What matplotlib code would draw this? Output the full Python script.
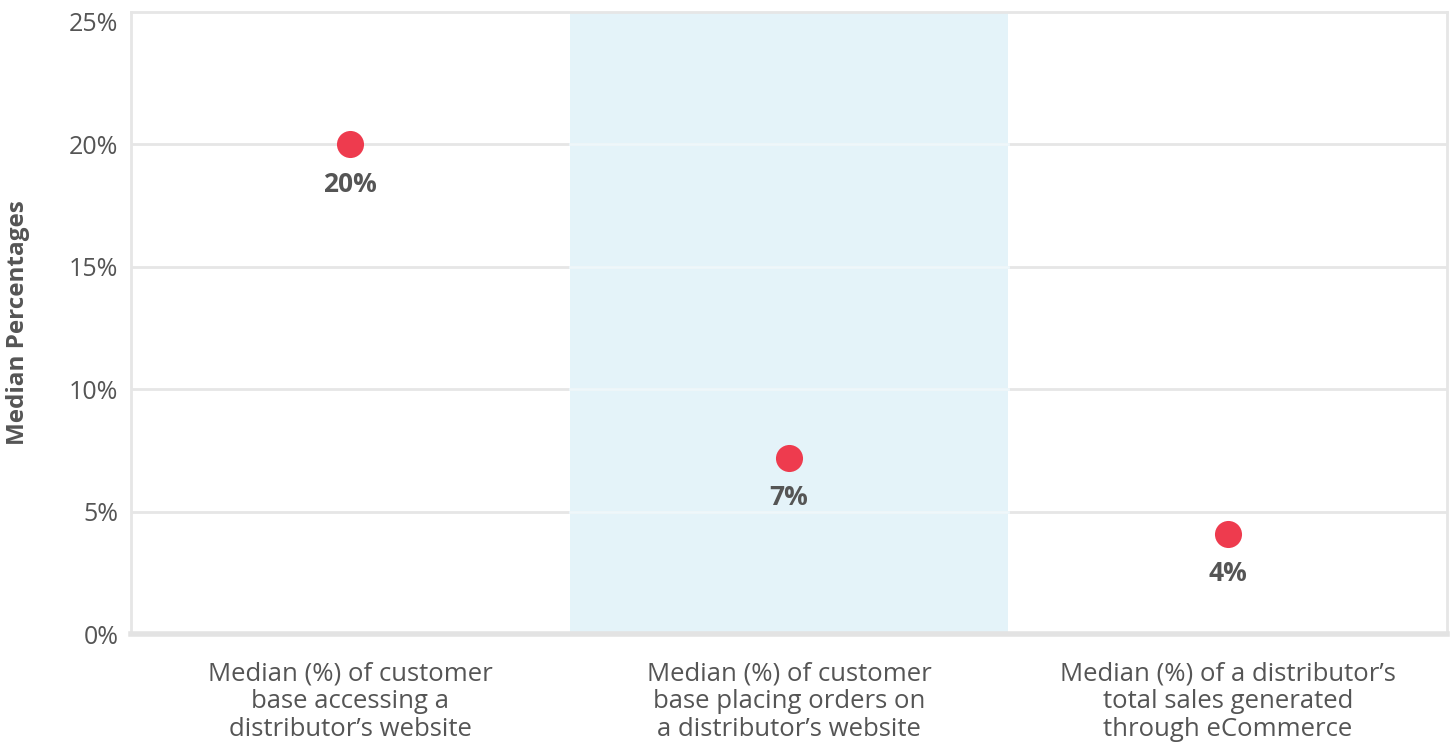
import matplotlib
matplotlib.use('Agg')
import matplotlib.pyplot as plt
import numpy as np

categories = ["Median (%) of customer\nbase accessing a\ndistributor\u2019s website",
              "Median (%) of customer\nbase placing orders on\na distributor\u2019s website",
              "Median (%) of a distributor\u2019s\ntotal sales generated\nthrough eCommerce"]
medians = [20.0, 7.2, 4.1]
y_ticks = [0, 5, 10, 15, 20, 25]

TEXT = '#555555'
GRID = '#e6e6e6'
DOT = '#ee3b4e'
BAND = '#e4f3f9'

plt.rcParams['font.family'] = ['Open Sans', 'DejaVu Sans']

fig = plt.figure(figsize=(14.52, 7.49), dpi=100)
ax = fig.add_axes([0.0902, 0.1535, 0.9064, 0.8305])

x = np.arange(len(categories))
ax.set_xlim(-0.5, len(categories) - 0.5)
ax.set_ylim(0, 25.4)

# shaded middle column
ax.axvspan(0.5, 1.5, color=BAND, zorder=0, lw=0)

for t in y_ticks[1:-1]:
    ax.axhline(t, color=GRID, lw=2, zorder=1)
    ax.axhline(t, xmin=1/3, xmax=2/3, color='#eef7fb', lw=2, zorder=1.5)

ax.scatter(x, medians, s=380, color=DOT, zorder=3, lw=0)
for xi, v in zip(x, medians):
    ax.annotate('{:.0f}%'.format(v), (xi, v), xytext=(0, -19), textcoords='offset points',
                ha='center', va='top', fontsize=19, fontweight='bold', color=TEXT)

ax.set_yticks(y_ticks)
ax.set_yticklabels(['{}%'.format(t) for t in y_ticks], fontsize=18, color=TEXT)
ax.set_xticks(x)
ax.set_xticklabels(categories, fontsize=18.5, color=TEXT, linespacing=1.13)
ax.tick_params(axis='both', length=0)
ax.tick_params(axis='y', pad=9)
ax.tick_params(axis='x', pad=20)
ax.set_ylabel('Median Percentages', fontsize=17.5, fontweight='bold', color=TEXT)
ax.yaxis.set_label_coords(-0.0765, 0.5)

for side in ['left', 'right', 'top']:
    ax.spines[side].set_color(GRID)
    ax.spines[side].set_linewidth(2)
ax.spines['bottom'].set_color('#e3e3e3')
ax.spines['bottom'].set_linewidth(4)

fig.savefig('out.png', dpi=100)
